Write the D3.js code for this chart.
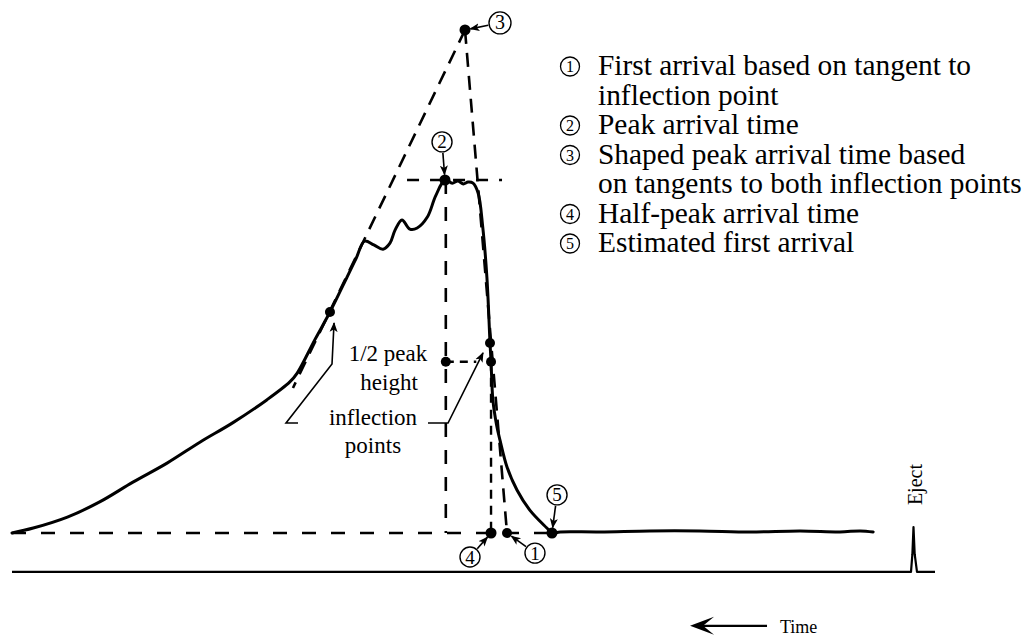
<!DOCTYPE html>
<html>
<head>
<meta charset="utf-8">
<script src="https://cdn.jsdelivr.net/npm/d3@7"></script>
<style>
  body { margin: 0; background: #fff; }
  svg { display: block; }
  text { font-family: "Liberation Serif", "Times New Roman", serif; fill: #000; }
</style>
</head>
<body>
<svg id="chart" width="1026" height="636"></svg>
<script>
// Detector trace: chart position (time runs right to left) and response (% of peak height)
const traceX = [0, 2.3, 6.0, 9.5, 13.1, 16.8, 20.4, 23.9, 27.6, 30.1, 30.9, 32.8, 34.45, 36.3, 37.3, 38.2,
  39.2, 40.2, 40.95, 41.5, 42.25, 43.1, 43.9, 45.0, 45.9, 46.91, 47.7, 48.3, 48.9, 49.4, 49.95, 50.5,
  51.0, 51.45, 51.79, 51.9, 52.1, 52.5, 52.87, 53.63, 54.71, 56.1, 57.95, 58.5, 59.4, 63.7, 69.1, 74.5,
  80.0, 85.4, 89.7, 91.9, 93.3];
const traceY = [0, 1.4, 4.5, 8.8, 14.4, 19.8, 25.8, 31.2, 37.7, 42.8, 45.3, 54.7, 62.6, 72.5, 77.9, 82.7,
  81.6, 80.4, 82.1, 85.8, 88.7, 86.1, 86.4, 89.5, 95.5, 100, 99.1, 99.7, 98.9, 99.4, 99.1, 96.3,
  86.7, 72.5, 53.8, 48.5, 37.7, 30.6, 26.3, 18.7, 12.2, 6.5, 1.4, 0, 0.3, 0.3, 0.6, 0.6,
  0.3, 0.6, 0.3, 0.6, 0.3];

// Lower trace carrying the eject pulse
const ejectX = [0, 97.4, 97.55, 97.67, 97.8, 98.05, 100];
const ejectY = [-11, -11, -6, 1.7, -6, -11, -11];

// Construction points
const peakX = 46.91, peakY = 100;            // (2) peak
const shapedX = 49.08, shapedY = 142.5;      // (3) intersection of the two tangents
const leftInflX = 34.45, leftInflY = 62.6;   // inflection point on the rising limb
const rightInflX = 51.79, rightInflY = 53.8; // inflection point on the falling limb
const halfY = 48.5;                          // half peak height
const peakLineX = 47.0;                      // vertical through the peak
const halfX = 51.9;                          // half-peak point on the falling limb
const firstTanX = 53.63;                     // (1) tangent meets baseline
const estFirstX = 58.5;                      // (5) trace returns to baseline
const leftTanEnd = [30.44, 41.08];
const peakLineSpan = [42.8, 53.09];

// Numbered callouts: label centre and the point each one marks
const calloutNum = [3, 2, 5, 4, 1];
const calloutLabel = [[52.87, 144.5], [46.59, 110.8], [59.05, 10.8], [49.62, -6.8], [56.66, -5.7]];
const calloutTarget = [[shapedX, shapedY], [peakX, peakY], [estFirstX, 0], [halfX, 0], [firstTanX, 0]];

// Legend entries
const legendNum = [1, 2, 3, 4, 5];
const legendText = [
  ["First arrival based on tangent to", "inflection point"],
  ["Peak arrival time"],
  ["Shaped peak arrival time based", "on tangents to both inflection points"],
  ["Half-peak arrival time"],
  ["Estimated first arrival"]
];

const svg = d3.select("#chart");
const x = d3.scaleLinear().domain([0, 100]).range([12, 935]);
const y = d3.scaleLinear().domain([0, 100]).range([533, 180]);

// arrowhead marker
const defs = svg.append("defs");
defs.append("marker")
  .attr("id", "tip")
  .attr("viewBox", "0 -5 10 10")
  .attr("refX", 9).attr("refY", 0)
  .attr("markerWidth", 10).attr("markerHeight", 10)
  .attr("markerUnits", "userSpaceOnUse")
  .attr("orient", "auto")
  .append("path")
  .attr("d", "M0,-4 L10,0 L0,4 L2.5,0 Z")
  .attr("fill", "#000");

const line = d3.line().x(d => x(d[0])).y(d => y(d[1]));

function dashed(pts, dash, w) {
  svg.append("path")
    .attr("d", line(pts))
    .attr("fill", "none")
    .attr("stroke", "#000")
    .attr("stroke-width", w || 2.6)
    .attr("stroke-dasharray", dash);
}

// baseline
dashed([[0, 0], [estFirstX, 0]], "14,15", 2.4);
// tangents to the inflection points
dashed([[shapedX, shapedY], leftTanEnd], "14,9", 2.6);
dashed([[shapedX, shapedY], [firstTanX, 0]], "14,9", 2.6);
// peak level and peak time
dashed([[peakLineSpan[0], peakY], [peakLineSpan[1], peakY]], "12,11", 2.4);
dashed([[peakLineX, peakY], [peakLineX, 0]], "14,13", 2.6);
// half peak height and half-peak time
dashed([[peakLineX, halfY], [50.3, halfY]], "8,6", 2.4);
dashed([[halfX, halfY], [halfX, 0]], "9,7", 2.4);

// main trace
svg.append("path")
  .attr("d", d3.line().x(d => x(d[0])).y(d => y(d[1])).curve(d3.curveCatmullRom.alpha(0.5))(traceX.map((v, i) => [v, traceY[i]])))
  .attr("fill", "none")
  .attr("stroke", "#000")
  .attr("stroke-width", 3)
  .attr("stroke-linejoin", "round")
  .attr("stroke-linecap", "round");

// lower trace with eject pulse
svg.append("path")
  .attr("d", line(ejectX.map((v, i) => [v, ejectY[i]])))
  .attr("fill", "none")
  .attr("stroke", "#000")
  .attr("stroke-width", 2.2)
  .attr("stroke-linejoin", "round");

// construction dots
const dots = [[peakX, peakY, 5.5], [shapedX, shapedY, 5.5], [leftInflX, leftInflY, 5], [rightInflX, rightInflY, 5],
  [halfX, halfY, 5], [peakLineX, halfY, 5], [halfX, 0, 5.5], [firstTanX, 0, 5], [estFirstX, 0, 5.5]];
svg.selectAll("circle.dot").data(dots).join("circle")
  .attr("class", "dot")
  .attr("cx", d => x(d[0])).attr("cy", d => y(d[1])).attr("r", d => d[2])
  .attr("fill", "#000");

// leaders from the "inflection points" note
function leader(pts) {
  svg.append("path")
    .attr("d", line(pts))
    .attr("fill", "none")
    .attr("stroke", "#000")
    .attr("stroke-width", 1.6)
    .attr("marker-end", "url(#tip)");
}
leader([[30.99, 31.16], [29.69, 31.16], [34.67, 47.88], [34.89, 59.5]]);
leader([[45.07, 31.16], [47.24, 31.16], [51.03, 51.0]]);

// notes
const noteFont = 23;
[["1/2 peak", 40.74, 48.7], ["height", 40.85, 40.5], ["inflection", 39.11, 30.6], ["points", 39.11, 22.7]]
  .forEach(([t, tx, ty]) => {
    svg.append("text").attr("x", x(tx)).attr("y", y(ty))
      .attr("text-anchor", "middle").attr("font-size", noteFont).text(t);
  });

// numbered callouts with arrows
calloutNum.forEach((n, i) => {
  const [lx, ly] = calloutLabel[i].map((v, k) => k ? y(v) : x(v));
  const [tx, ty] = [x(calloutTarget[i][0]), y(calloutTarget[i][1])];
  const r = n === 3 ? 11 : 10;
  const dx = tx - lx, dy = ty - ly, len = Math.hypot(dx, dy);
  const ux = dx / len, uy = dy / len;
  svg.append("line")
    .attr("x1", lx + ux * (r + 1)).attr("y1", ly + uy * (r + 1))
    .attr("x2", tx - ux * 5.5).attr("y2", ty - uy * 5.5)
    .attr("stroke", "#000").attr("stroke-width", 1.6)
    .attr("marker-end", "url(#tip)");
  svg.append("circle").attr("cx", lx).attr("cy", ly).attr("r", r)
    .attr("fill", "#fff").attr("stroke", "#000").attr("stroke-width", 1.4);
  svg.append("text").attr("x", lx).attr("y", ly + 6.5)
    .attr("text-anchor", "middle").attr("font-size", n === 3 ? 20 : 19).text(n);
});

// Eject label
svg.append("text")
  .attr("transform", `translate(${x(98.6)},${y(7.9)}) rotate(-90)`)
  .attr("font-size", 20).text("Eject");

// Time direction arrow
const ty0 = y(-26.3), tx0 = x(73.46), tx1 = x(81.8);
svg.append("line").attr("x1", tx0 + 8).attr("y1", ty0).attr("x2", tx1).attr("y2", ty0)
  .attr("stroke", "#000").attr("stroke-width", 2.4);
svg.append("path")
  .attr("d", `M${tx0},${ty0} L${tx0 + 24},${ty0 - 9} L${tx0 + 13},${ty0} L${tx0 + 24},${ty0 + 9} Z`)
  .attr("fill", "#000");
svg.append("text").attr("x", x(83.2)).attr("y", ty0 + 7).attr("font-size", 18).text("Time");

// legend
const legX = 570, legTextX = 598, legTop = 75, legStep = 29.5;
let row = 0;
legendNum.forEach((n, i) => {
  const base = legTop + row * legStep;
  svg.append("circle").attr("cx", legX).attr("cy", base - 8.5).attr("r", 9.5)
    .attr("fill", "none").attr("stroke", "#000").attr("stroke-width", 1.3);
  svg.append("text").attr("x", legX).attr("y", base - 3)
    .attr("text-anchor", "middle").attr("font-size", 16).text(n);
  legendText[i].forEach((t, k) => {
    svg.append("text").attr("x", legTextX).attr("y", legTop + (row + k) * legStep)
      .attr("font-size", 29.4).text(t);
  });
  row += legendText[i].length;
});
</script>
</body>
</html>
